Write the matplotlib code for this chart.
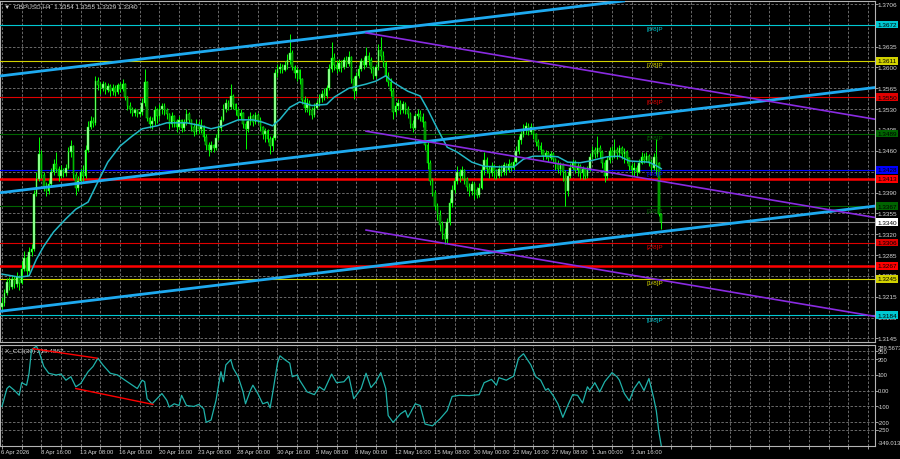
import numpy as np
import matplotlib
matplotlib.use('Agg')
import matplotlib.pyplot as plt
import matplotlib.transforms as mtrans

# ---------------- data (prices as pips above 1.3000, H4 bars) ----------------
firstOpen = 198
closes = [
  205, 222, 240, 232, 245, 236, 248, 238, 262, 280,
  258, 290, 296, 388, 412, 455, 420, 400, 392, 405,
  425, 438, 430, 418, 428, 422, 432, 458, 468, 420,
  398, 410, 424, 418, 462, 500, 510, 506, 578, 570,
  565, 572, 562, 568, 560, 566, 558, 570, 564, 572,
  550, 536, 530, 524, 528, 522, 526, 540, 575, 515,
  505, 510, 528, 518, 530, 536, 528, 522, 505, 518,
  510, 500, 512, 498, 508, 522, 512, 500, 492, 505,
  496, 502, 484, 470, 462, 470, 465, 482, 498, 512,
  530, 540, 534, 552, 538, 528, 518, 524, 505, 496,
  510, 518, 508, 520, 512, 500, 488, 494, 480, 468,
  482, 590, 598, 600, 596, 604, 612, 625, 600, 590,
  595, 580, 545, 532, 540, 528, 520, 532, 540, 548,
  556, 552, 565, 598, 615, 604, 598, 608, 600, 612,
  606, 618, 580, 560, 585, 598, 610, 604, 620, 612,
  598, 586, 600, 630, 620, 608, 585, 575, 560, 525,
  535, 540, 528, 538, 530, 522, 505, 498, 518, 522,
  516, 508, 470, 440, 410, 390, 368, 352, 335, 320,
  312, 340, 372, 395, 410, 425, 418, 428, 412, 400,
  392, 404, 395, 386, 398, 428, 445, 430, 422, 435,
  426, 418, 430, 424, 436, 428, 438, 432, 442, 460,
  478, 488, 495, 502, 492, 500, 488, 475, 468, 462,
  452, 456, 448, 455, 446, 438, 430, 436, 425, 392,
  418, 432, 440, 428, 434, 422, 430, 418, 428, 450,
  462, 455, 465, 458, 440, 418, 445, 460, 452, 462,
  456, 464, 454, 458, 448, 435, 428, 432, 425, 440,
  450, 444, 452, 440, 432, 450, 440, 354, 340]
highs = [
  215, 228, 246, 248, 252, 250, 256, 252, 275, 292,
  284, 298, 304, 394, 425, 483, 462, 424, 408, 413,
  432, 446, 458, 434, 436, 432, 438, 466, 478, 470,
  424, 418, 432, 436, 470, 510, 518, 516, 586, 584,
  576, 578, 575, 574, 572, 572, 570, 574, 576, 580,
  574, 552, 542, 534, 532, 530, 532, 548, 597, 578,
  518, 516, 535, 532, 538, 541, 540, 532, 524, 525,
  520, 514, 518, 514, 514, 530, 526, 514, 506, 513,
  510, 513, 504, 488, 474, 476, 472, 488, 504, 518,
  538, 547, 545, 572, 556, 540, 532, 530, 526, 510,
  518, 525, 522, 525, 524, 516, 502, 498, 496, 485,
  486, 598, 606, 608, 606, 610, 622, 656, 630, 604,
  600, 598, 582, 552, 548, 546, 534, 540, 546, 556,
  562, 566, 570, 606, 643, 625, 612, 614, 612, 618,
  620, 628, 620, 586, 592, 604, 616, 618, 635, 626,
  618, 603, 606, 640, 651, 628, 610, 592, 582, 565,
  542, 547, 546, 544, 542, 535, 526, 512, 524, 530,
  528, 524, 510, 474, 444, 415, 394, 372, 360, 342,
  330, 348, 380, 402, 418, 435, 430, 434, 430, 416,
  406, 410, 408, 400, 406, 436, 458, 450, 434, 441,
  438, 430, 436, 436, 442, 440, 446, 442, 448, 468,
  485, 494, 505, 508, 506, 506, 502, 490, 480, 474,
  462, 462, 460, 460, 458, 448, 444, 442, 440, 428,
  425, 440, 446, 444, 440, 438, 435, 432, 435, 456,
  468, 466, 485, 470, 462, 444, 452, 466, 468, 480,
  466, 470, 468, 464, 462, 450, 440, 441, 436, 446,
  458, 456, 458, 455, 446, 456, 480, 442, 355]
lows = [
  192, 200, 218, 226, 228, 230, 232, 226, 236, 258,
  250, 256, 284, 292, 384, 410, 414, 392, 385, 388,
  400, 420, 424, 410, 414, 416, 418, 430, 450, 412,
  386, 392, 404, 410, 415, 458, 496, 500, 504, 562,
  556, 560, 555, 558, 552, 554, 552, 556, 558, 560,
  545, 528, 524, 518, 518, 516, 518, 520, 536, 510,
  498, 497, 504, 506, 514, 522, 520, 514, 497, 500,
  500, 492, 496, 491, 494, 504, 506, 494, 485, 488,
  490, 490, 476, 462, 452, 458, 458, 462, 478, 494,
  510, 526, 528, 530, 530, 520, 513, 514, 498, 463,
  492, 504, 502, 505, 506, 494, 480, 475, 474, 455,
  460, 478, 584, 590, 590, 594, 598, 606, 595, 582,
  578, 572, 538, 525, 526, 520, 513, 516, 530, 535,
  542, 546, 548, 562, 592, 596, 590, 594, 592, 598,
  600, 602, 574, 547, 556, 582, 594, 598, 600, 604,
  590, 581, 582, 596, 612, 600, 578, 569, 552, 513,
  520, 528, 522, 524, 522, 515, 498, 491, 496, 514,
  510, 500, 462, 430, 402, 384, 360, 344, 326, 312,
  304, 306, 336, 365, 390, 404, 408, 412, 405, 392,
  384, 386, 379, 380, 382, 396, 420, 422, 414, 418,
  413, 412, 414, 418, 420, 420, 424, 426, 428, 440,
  455, 472, 484, 488, 486, 488, 480, 468, 462, 455,
  444, 446, 441, 444, 440, 428, 422, 420, 410, 368,
  385, 414, 428, 422, 418, 413, 413, 412, 414, 426,
  446, 448, 450, 448, 432, 408, 412, 440, 444, 448,
  446, 450, 446, 440, 440, 428, 420, 418, 418, 422,
  438, 440, 442, 434, 426, 428, 420, 350, 329]

maBars = [0, 7, 11, 14, 17, 21, 26, 30, 35, 39, 43, 48, 53, 57, 63, 67, 75, 80, 85, 90,
          96, 102, 106, 110, 113, 117, 121, 126, 132, 135, 141, 148, 152, 156, 159, 165,
          170, 173, 177, 181, 185, 191, 196, 202, 208, 212, 216, 222, 226, 230, 235, 239,
          246, 251, 255, 263, 266, 268]
maPips = [253, 248, 250, 278, 300, 324, 346, 362, 374, 408, 441, 468, 485, 497, 502, 507,
          507, 503, 497, 502, 512, 512, 508, 502, 513, 533, 542, 536, 538, 550, 565, 572,
          577, 586, 575, 560, 552, 530, 497, 466, 458, 441, 434, 433, 433, 446, 451, 451,
          450, 441, 440, 443, 450, 451, 443, 441, 435, 430]

cciBars = [0, 2, 3, 5, 7, 8, 10, 11, 12, 14, 15, 17, 19, 22, 24, 26, 28, 29, 30, 32, 35, 37,
           39, 41, 44, 47, 50, 53, 55, 57, 58, 59, 61, 63, 65, 67, 68, 70, 72, 73, 75, 78,
           80, 82, 83, 85, 87, 89, 90, 91, 93, 94, 96, 98, 99, 101, 102, 104, 106, 108, 109,
           110, 112, 113, 115, 117, 118, 120, 121, 124, 127, 129, 131, 134, 136, 139, 141,
           143, 146, 148, 150, 152, 154, 156, 157, 159, 162, 164, 165, 168, 170, 172, 175,
           178, 181, 183, 186, 190, 194, 196, 199, 201, 202, 205, 208, 210, 212, 215, 217,
           219, 221, 222, 224, 226, 228, 230, 232, 234, 236, 238, 239, 241, 243, 245, 248,
           250, 251, 253, 255, 257, 259, 261, 263, 265, 266, 267, 268]
cciVals = [-101, 13, 28, 2, -30, 50, 34, 110, 260, 282, 250, 153, 110, 99, 105, 66, 88, 56,
           24, 45, 120, 153, 206, 163, 110, 99, 66, 34, 13, 66, 56, -52, -84, -52, -19, -62,
           -105, -84, -95, -30, -95, -101, -88, -116, -202, -187, -62, 120, 56, 163, 196, 142,
           88, -8, -84, 2, 34, -19, -84, -73, -110, -19, 174, 221, 196, 174, 88, 99, 66, -8,
           -26, 24, 2, 105, 50, 56, 92, -52, 13, 110, 19, 56, 114, 13, -159, -202, -148, -127,
           -170, -84, -95, -213, -224, -181, -127, -37, -30, -32, -26, 50, 71, 34, 82, 66, 92,
           206, 234, 163, 88, 66, 2, 13, -30, -84, -170, -95, -26, -30, -79, 24, 2, 50, -8, 56,
           114, 88, 66, -19, -65, 13, 58, 0, 77, -52, -129, -258, -349]

dateLabels = ['6 Apr 2026', '8 Apr 16:00', '13 Apr 08:00', '16 Apr 00:00', '20 Apr 16:00',
              '23 Apr 08:00', '28 Apr 00:00', '30 Apr 16:00', '5 May 08:00', '8 May 00:00',
              '12 May 16:00', '15 May 08:00', '20 May 00:00', '22 May 16:00', '27 May 08:00',
              '1 Jun 00:00', '3 Jun 16:00']

priceTicks = [1.3706, 1.3671, 1.3635, 1.3600, 1.3565, 1.3530, 1.3495, 1.3460, 1.3425,
              1.3390, 1.3355, 1.3320, 1.3285, 1.3250, 1.3215, 1.3180, 1.3145]

murrayLevels = [1.3184, 1.3245, 1.3306, 1.3367, 1.3428, 1.3489, 1.3550, 1.3611, 1.3672]
murrayNames = ['[0/8]P', '[1/8]P', '[2/8]P', '[3/8]P', '[4/8]P', '[5/8]P', '[6/8]P', '[7/8]P', '[8/8]P']
murrayColors = ['#00c8d2', '#d2d200', '#e00000', '#006400', '#0000ff', '#006400', '#e00000', '#d2d200', '#00c8d2']
redLevels = [1.3413, 1.3267]
lastPrice = 1.3340

blueChannel = [((0, 1.3586), (300, 1.3735)), ((0, 1.3390), (300, 1.3539)), ((0, 1.3191), (300, 1.3340))]
purpleChannel = [((148, 1.3658), (355, 1.3513)), ((148, 1.3493), (355, 1.3348)), ((148, 1.3327), (355, 1.3182))]

cciLevels = [250, 200, 100, 0, -100, -200, -250]
cciLevelText = ['250', '200', '100', '0.00', '-100', '-200', '-250']
cciMin, cciMax = -349.013, 289.5673
divergence = [((12.6, 266), (38.6, 206)), ((30, 13), (61.4, -88))]

# ---------------- figure ----------------
plt.rcParams['font.family'] = ['Liberation Sans', 'DejaVu Sans']
fs = 4.6
fsSmall = 4.2
txtCol = '#d8d8d8'
frameCol = '#b4b4b4'
gridCol = '#7a7a7a'

W, H = 900.0, 460.0
fig = plt.figure(figsize=(9, 4.6), dpi=100, facecolor='black')

def pxAxes(left, top, right, bottom):
  a = fig.add_axes([left/W, 1 - bottom/H, (right - left)/W, (bottom - top)/H])
  a.set_facecolor('black')
  for s in a.spines.values():
    s.set_color(frameCol)
    s.set_linewidth(0.8)
  return a

ax = pxAxes(0, 2, 875, 343)
axc = pxAxes(0, 346, 875, 446.5)

xmin, xmax = -0.81, 354.9
n = len(closes)
xs = np.arange(n)
c = 1.3 + np.array(closes)/10000.0
o = np.concatenate([[1.3 + firstOpen/10000.0], c[:-1]])
hi = 1.3 + np.array(highs)/10000.0
lo = 1.3 + np.array(lows)/10000.0
up = c >= o

# grid
for a in (ax, axc):
  a.set_xlim(xmin, xmax)
  a.set_xticks(np.arange(0, xmax, 8))
  a.grid(True, color=gridCol, ls=(0, (3, 2)), lw=0.6, zorder=0)
  a.set_axisbelow(True)
  a.tick_params(labelleft=False, labelbottom=False, left=False, right=True,
                length=2, color=frameCol, width=0.6)

ax.tick_params(axis='x', length=0)
axc.tick_params(axis='x', length=2, direction='out')

ax.set_ylim(1.31391, 1.37115)
ax.set_yticks(priceTicks)

# candles
ax.vlines(xs, lo, hi, color='#00ff00', lw=0.7, zorder=4)
bodyCol = ['#b4ffb4' if u else '#007800' for u in up]
ax.bar(xs, c - o, bottom=o, width=0.62, color=bodyCol, edgecolor='#00ff00', lw=0.35, zorder=5)

# moving average
ax.plot(maBars, 1.3 + np.array(maPips)/10000.0, color='#22b8c6', lw=1.1, zorder=6)

# murray math levels
for lev, name, col in zip(murrayLevels, murrayNames, murrayColors):
  ax.axhline(lev, color=col, lw=0.8, zorder=3)
  ax.text(262, lev - 0.00025, name, color=col, fontsize=fs, va='top', ha='left', zorder=7)
for lev in redLevels:
  ax.axhline(lev, color='#ff0000', lw=1.8, zorder=3)
ax.axhline(lastPrice, color='#8c8c8c', lw=0.8, zorder=3)

# trend channels
for p0, p1 in blueChannel:
  ax.axline(p0, p1, color='#1eaaf0', lw=2.0, zorder=7)
for p0, p1 in purpleChannel:
  slope = (p1[1] - p0[1]) / (p1[0] - p0[0])
  ax.plot([p0[0], xmax], [p0[1], p0[1] + slope*(xmax - p0[0])], color='#8a2be2', lw=1.2, zorder=7)

# right price scale
yT = mtrans.blended_transform_factory(ax.transAxes, ax.transData)
for p in priceTicks:
  ax.text(1.003, p, '%.4f' % p, transform=yT, color=txtCol, fontsize=fs, va='center',
          ha='left', clip_on=False, zorder=8)
boxes = list(zip(murrayLevels, murrayColors)) + [(r, '#ff0000') for r in redLevels] + [(lastPrice, '#ffffff')]
for p, col in boxes:
  ax.text(1.0025, p, '%.4f' % p, transform=yT, color='black', fontsize=fs, va='center', ha='left',
          clip_on=False, zorder=9, bbox=dict(boxstyle='square,pad=0.22', fc=col, ec='none'))

fig.text(4/W, 1 - 7/H, '\u25bc  GBPUSD,H4  1.3354 1.3355 1.3329 1.3340', color=txtCol,
         fontsize=fs, va='center', ha='left')

# CCI panel
axc.set_ylim(cciMin, cciMax)
axc.set_yticks(cciLevels)
axc.plot(cciBars, cciVals, color='#20b2aa', lw=0.9, zorder=5)
for p0, p1 in divergence:
  axc.plot([p0[0], p1[0]], [p0[1], p1[1]], color='#ff0000', lw=1.0, zorder=6)
cT = mtrans.blended_transform_factory(axc.transAxes, axc.transData)
for v, t in zip(cciLevels, cciLevelText):
  axc.text(1.003, v, t, transform=cT, color=txtCol, fontsize=fsSmall, va='center', ha='left', clip_on=False)
axc.text(1.003, cciMax, '%.4f' % cciMax, transform=cT, color=txtCol, fontsize=fsSmall, va='top', ha='left', clip_on=False)
axc.text(1.003, cciMin, '%.3f' % cciMin, transform=cT, color=txtCol, fontsize=fsSmall, va='bottom', ha='left', clip_on=False)
axc.text(0.006, 0.97, 'X_CCI(30) 219.4867', transform=axc.transAxes, color=txtCol, fontsize=fs,
         va='top', ha='left')

# time labels
xT = mtrans.blended_transform_factory(axc.transData, axc.transAxes)
for i, lab in enumerate(dateLabels):
  axc.text(i*16 - 0.3, -0.055, lab, transform=xT, color=txtCol, fontsize=fsSmall, va='center',
           ha='left', clip_on=False)

fig.savefig('out.png', dpi=100, facecolor='black')
